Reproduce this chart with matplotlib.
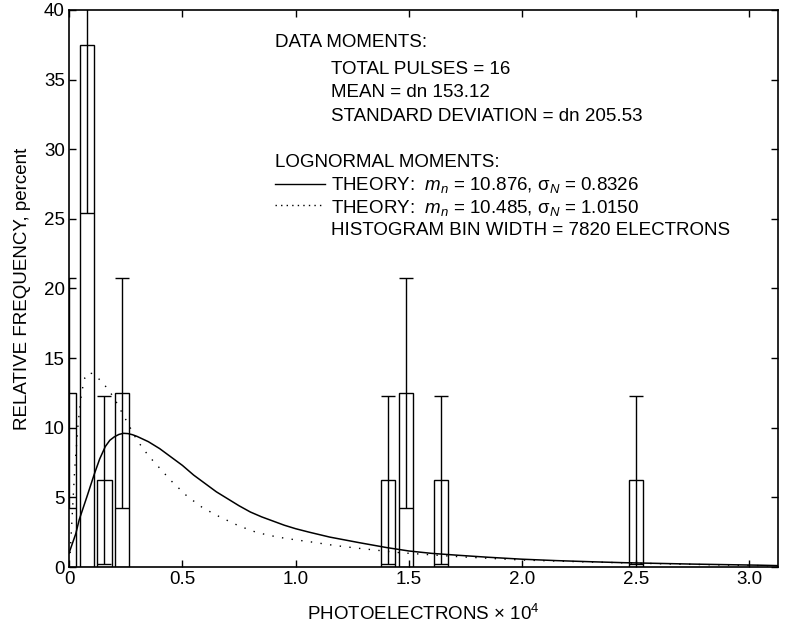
import matplotlib
matplotlib.use("Agg")
import matplotlib.pyplot as plt
import numpy as np

plt.rcParams['font.family'] = ['Liberation Sans', 'DejaVu Sans']
plt.rcParams['mathtext.fontset'] = 'custom'
plt.rcParams['mathtext.rm'] = 'Liberation Sans'
plt.rcParams['mathtext.it'] = 'Liberation Sans:italic'

# Histogram bins (photoelectrons x 1e4), relative frequency (%) and error
bin_centers = [0.0, 0.0782, 0.1564, 0.2346, 1.4076, 1.4858, 1.6422, 2.5024]
rel_freq = [12.5, 37.5, 6.25, 12.5, 6.25, 12.5, 6.25, 6.25]
freq_err = [8.27, 12.1, 6.05, 8.27, 6.05, 8.27, 6.05, 6.05]

# Lognormal theory curve, m_n = 10.876, sigma_N = 0.8326
solid_x = [0.0, 0.03, 0.045, 0.08, 0.11, 0.135, 0.16, 0.18, 0.2, 0.22, 0.24,
           0.26, 0.28, 0.3, 0.35, 0.4, 0.45, 0.5, 0.55, 0.6, 0.65, 0.7, 0.75,
           0.8, 0.85, 0.9, 0.95, 1.0, 1.06, 1.15, 1.28, 1.4, 1.5, 1.6, 1.72,
           1.85, 2.0, 2.15, 2.3, 2.45, 2.6, 2.75, 2.9, 3.05, 3.128]
solid_y = [1.0, 2.4, 3.4, 5.1, 6.6, 7.75, 8.65, 9.1, 9.35, 9.52, 9.6,
           9.58, 9.5, 9.38, 9.0, 8.5, 7.9, 7.3, 6.6, 6.0, 5.4, 4.9, 4.4,
           3.95, 3.6, 3.3, 3.0, 2.75, 2.5, 2.15, 1.75, 1.4, 1.15, 0.98, 0.84,
           0.7, 0.56, 0.46, 0.38, 0.31, 0.26, 0.21, 0.17, 0.13, 0.1]

# Lognormal theory curve, m_n = 10.485, sigma_N = 1.0150
dot_x = [0.005, 0.015, 0.025, 0.04, 0.055, 0.07, 0.085, 0.1, 0.12, 0.15,
         0.18, 0.21, 0.24, 0.27, 0.3, 0.35, 0.4, 0.45, 0.52, 0.59, 0.665,
         0.75, 0.83, 0.92, 1.0, 1.06, 1.17, 1.28, 1.46, 1.72, 2.0, 2.3, 2.6,
         2.9, 3.128]
dot_y = [1.0, 4.0, 7.0, 10.3, 12.5, 13.6, 13.95, 13.9, 13.7, 13.2,
         12.6, 11.8, 10.9, 10.0, 9.1, 8.0, 7.1, 6.2, 5.1, 4.25, 3.6,
         2.95, 2.47, 2.15, 1.95, 1.82, 1.55, 1.34, 1.03, 0.74, 0.5, 0.36, 0.24,
         0.14, 0.08]

fig = plt.figure(figsize=(7.88, 6.31), dpi=100)
ax = fig.add_axes([0.0876, 0.1014, 0.8997, 0.8828])

bar_w = 0.064
ax.bar(bin_centers, rel_freq, width=bar_w, facecolor='none',
       edgecolor='black', linewidth=1.0, zorder=3)
ax.errorbar(bin_centers, rel_freq, yerr=freq_err, fmt='none', ecolor='black',
            elinewidth=1.0, capsize=5.2, capthick=1.0, zorder=3)

ax.plot(solid_x, solid_y, color='black', linewidth=1.1, zorder=4)
ax.plot(dot_x, dot_y, color='black', linewidth=1.0,
        linestyle=(0, (1, 6)), zorder=4)

fs = 13.5
ax.set_xlim(0, 3.128)
ax.set_ylim(0, 40)
ax.set_xticks([0, 0.5, 1.0, 1.5, 2.0, 2.5, 3.0])
ax.set_xticklabels(['0', '0.5', '1.0', '1.5', '2.0', '2.5', '3.0'])
ax.set_yticks(np.arange(0, 41, 5))
ax.tick_params(direction='in', top=True, right=True, length=5, width=1,
               labelsize=fs, pad=3)
for s in ax.spines.values():
    s.set_linewidth(1.2)

ax.set_xlabel('PHOTOELECTRONS × 10$^{4}$', fontsize=fs, labelpad=11)
ax.set_ylabel('RELATIVE FREQUENCY, percent', fontsize=fs, labelpad=9)

# annotation block
tx0, tx1 = 0.2906, 0.3695
ax.text(tx0, 0.9408, 'DATA MOMENTS:', transform=ax.transAxes, fontsize=fs, va='center')
ax.text(tx1, 0.8923, 'TOTAL PULSES = 16', transform=ax.transAxes, fontsize=fs, va='center')
ax.text(tx1, 0.851, 'MEAN = dn 153.12', transform=ax.transAxes, fontsize=fs, va='center')
ax.text(tx1, 0.8079, 'STANDARD DEVIATION = dn 205.53', transform=ax.transAxes,
        fontsize=fs, va='center')
ax.text(tx0, 0.7253, 'LOGNORMAL MOMENTS:', transform=ax.transAxes, fontsize=fs, va='center')
ax.text(tx1, 0.6858,
        r'THEORY:  $m_n$ = 10.876, $\mathrm{\sigma}_{N}$ = 0.8326',
        transform=ax.transAxes, fontsize=fs, va='center')
ax.text(tx1, 0.6445,
        r'THEORY:  $m_n$ = 10.485, $\mathrm{\sigma}_{N}$ = 1.0150',
        transform=ax.transAxes, fontsize=fs, va='center')
ax.text(tx1, 0.605, 'HISTOGRAM BIN WIDTH = 7820 ELECTRONS',
        transform=ax.transAxes, fontsize=fs, va='center')
ax.plot([0.2906, 0.361], [0.6875, 0.6875], color='black', linewidth=1.0,
        transform=ax.transAxes)
ax.plot([0.2906, 0.361], [0.6495, 0.6495], color='black', linewidth=1.0,
        linestyle=(0, (1, 3)), transform=ax.transAxes)

fig.savefig('out.png', dpi=100)
